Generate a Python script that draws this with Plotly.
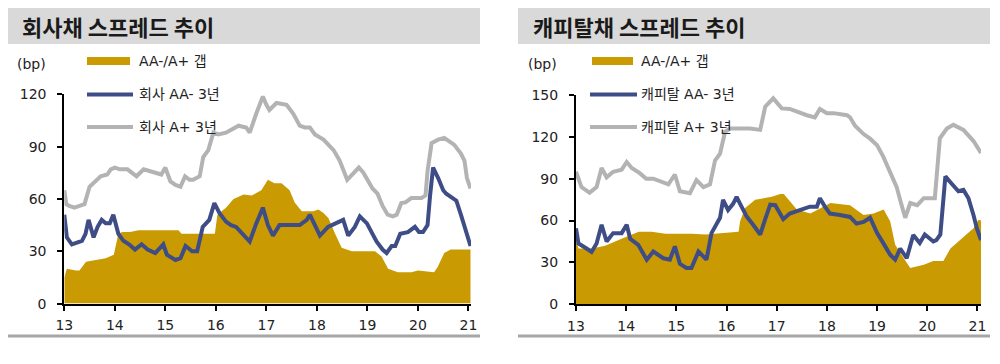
import plotly.graph_objects as go

# ---------------- data (x = year, 2-digit + fraction) ----------------
# Left: 회사채
corp_gap_x = [13.00, 13.05, 13.23, 13.30, 13.43, 13.60, 13.82, 13.98, 14.07, 14.15, 14.30, 14.47, 15.26, 15.32,
              15.98, 16.03, 16.20, 16.35, 16.55, 16.71, 16.90, 17.03, 17.16, 17.30, 17.46, 17.56, 17.70, 17.93,
              18.03, 18.13, 18.23, 18.36, 18.49, 18.69, 19.15, 19.28, 19.41, 19.60, 19.87, 20.00, 20.32, 20.39,
              20.52, 20.65, 20.98, 21.04]
corp_gap = [15, 20, 19, 19, 24, 25, 26, 28, 40, 41, 41, 42, 42, 40,
            40, 51, 55, 60, 62.5, 62, 65, 71, 69, 69, 65, 58, 53, 53,
            54, 52, 49, 40, 32, 30, 30, 27, 20, 18, 18, 19, 18, 21,
            29, 31, 31, 31]

corp_aa_x = [13.00, 13.05, 13.15, 13.25, 13.35, 13.42, 13.48, 13.58, 13.66, 13.74, 13.82, 13.90, 13.97, 14.07,
             14.17, 14.28, 14.40, 14.53, 14.65, 14.80, 14.96, 15.03, 15.20, 15.30, 15.40, 15.53, 15.63, 15.74,
             15.87, 15.97, 16.07, 16.20, 16.30, 16.40, 16.54, 16.67, 16.80, 16.93, 17.03, 17.13, 17.26, 17.46,
             17.66, 17.80, 17.86, 17.96, 18.06, 18.22, 18.39, 18.52, 18.62, 18.75, 18.85, 18.99, 19.10, 19.18,
             19.30, 19.38, 19.48, 19.55, 19.65, 19.80, 19.94, 20.02, 20.10, 20.19, 20.24, 20.30, 20.40, 20.50,
             20.56, 20.66, 20.76, 20.85, 20.95, 21.04]
corp_aa = [51, 38, 34, 35, 36, 40, 48, 38, 44, 48, 46, 46, 51, 40,
           36, 34, 31, 34, 31, 29, 34, 28, 25, 26, 33, 30, 30, 44,
           48, 57.6, 52, 47, 45, 44, 40, 35.6, 46, 55, 45, 39, 45, 45,
           45, 48, 51, 45, 39, 44, 46, 48, 39, 44, 50, 46, 40, 35.6,
           31, 29, 33, 33, 40, 41, 44, 41, 41, 45, 62, 78, 72, 65,
           63, 61, 59, 51, 42, 33]

corp_a_x = [13.00, 13.04, 13.10, 13.20, 13.30, 13.40, 13.50, 13.60, 13.72, 13.85, 13.92, 14.00, 14.10, 14.25,
            14.35, 14.43, 14.57, 14.70, 14.84, 14.92, 15.00, 15.10, 15.20, 15.30, 15.39, 15.48, 15.55, 15.68,
            15.75, 15.85, 15.95, 16.05, 16.20, 16.33, 16.45, 16.60, 16.67, 16.80, 16.93, 17.00, 17.06, 17.20,
            17.40, 17.53, 17.66, 17.76, 17.86, 17.96, 18.13, 18.33, 18.45, 18.60, 18.70, 18.83, 18.92, 19.00,
            19.10, 19.20, 19.30, 19.40, 19.50, 19.58, 19.67, 19.75, 19.87, 20.07, 20.15, 20.19, 20.27, 20.40,
            20.52, 20.62, 20.72, 20.85, 20.92, 20.97, 21.04]
corp_a = [65, 57, 56, 55, 56, 57, 67, 70, 73, 74, 77, 78, 77, 77,
          75, 73, 77, 76, 75, 74, 78, 70, 68, 67, 73, 71, 71, 73,
          84, 88, 98, 97, 98, 100, 102, 101, 98, 109, 118.7, 114, 111, 115,
          114, 109, 102, 101, 101, 97, 94, 88, 82, 71, 74, 78, 75, 71,
          66, 63, 56, 51, 50, 51, 57.6, 58, 60.5, 60.5, 62, 76, 92, 94,
          95, 93, 91, 86, 82, 72, 66]

# Right: 캐피탈채
cap_gap_x = [13.00, 13.05, 13.32, 13.58, 13.85, 14.12, 14.25, 14.51, 14.78, 15.31, 15.58, 16.24, 16.27, 16.37,
             16.57, 16.90, 17.07, 17.14, 17.40, 17.67, 17.93, 18.07, 18.46, 18.73, 18.93, 19.13, 19.26, 19.36,
             19.53, 19.66, 19.93, 20.12, 20.32, 20.46, 20.62, 20.79, 20.92, 21.02, 21.07]
cap_gap = [46, 40, 40, 42, 46, 50, 52, 52, 50.6, 50.6, 50, 52, 59.5, 69,
           75, 77, 79, 79, 68, 65, 70, 72.6, 71, 64, 65, 68, 59.5, 42.7,
           33, 26, 28.4, 31, 31, 40, 45, 50, 54.5, 60.6, 60]

cap_aa_x = [13.00, 13.05, 13.21, 13.31, 13.41, 13.51, 13.61, 13.74, 13.91, 14.01, 14.08, 14.24, 14.41, 14.54,
            14.74, 14.87, 14.97, 15.07, 15.20, 15.30, 15.44, 15.60, 15.70, 15.87, 15.93, 16.03, 16.13, 16.20,
            16.27, 16.40, 16.53, 16.67, 16.77, 16.87, 16.97, 17.13, 17.26, 17.46, 17.66, 17.80, 17.86, 17.96,
            18.06, 18.26, 18.46, 18.59, 18.73, 18.86, 19.00, 19.12, 19.26, 19.36, 19.46, 19.59, 19.72, 19.85,
            19.95, 20.12, 20.18, 20.26, 20.36, 20.46, 20.52, 20.62, 20.72, 20.82, 20.92, 20.99, 21.07]
cap_aa = [54.5, 43.6, 40, 37.5, 43.6, 57, 45, 51, 51, 57, 47, 42.6, 31.9, 37.8,
          33, 32, 41.5, 29, 26, 26, 37.8, 32, 51, 62, 74.8, 67.6, 72, 77,
          72, 63, 57, 50, 61, 71.4, 71, 61, 65, 67.6, 70, 70, 76, 70,
          65, 64, 62.6, 57.8, 59, 62, 51, 44, 35.5, 32, 40, 33, 49.7, 44,
          50, 45, 46, 50, 91.7, 87.5, 85, 81, 82, 76, 64, 54, 46]

cap_a_x = [13.00, 13.11, 13.27, 13.41, 13.51, 13.61, 13.74, 13.91, 14.01, 14.11, 14.27, 14.40, 14.54, 14.67,
           14.84, 14.97, 15.07, 15.27, 15.40, 15.54, 15.67, 15.77, 15.87, 15.97, 16.07, 16.27, 16.47, 16.67,
           16.77, 16.93, 17.10, 17.26, 17.40, 17.60, 17.76, 17.86, 18.00, 18.13, 18.40, 18.46, 18.56, 18.73,
           18.86, 19.00, 19.12, 19.26, 19.39, 19.48, 19.56, 19.66, 19.80, 19.93, 20.15, 20.25, 20.39, 20.52,
           20.72, 20.92, 21.07]
cap_a = [95, 84, 80, 84, 97.7, 91, 95, 96.5, 102, 97.7, 94, 90, 90, 88,
         86, 93, 81, 79.6, 89, 84, 86, 103, 108, 123.7, 126, 126, 126, 125,
         141.6, 147.6, 140.4, 140, 138, 135.5, 134, 140, 137, 137, 135.5, 134, 128, 122,
         118.7, 114, 106, 95, 84, 72, 62, 72.6, 71, 76, 76, 119, 126, 128.6,
         125, 117, 108.5]

x_ticks = [13, 14, 15, 16, 17, 18, 19, 20, 21]
corp_y_ticks = [0, 30, 60, 90, 120]
cap_y_ticks = [0, 30, 60, 90, 120, 150]

titles = ["회사채 스프레드 추이", "캐피탈채 스프레드 추이"]
legend_left = ["AA-/A+ 갭", "회사 AA- 3년", "회사 A+ 3년"]
legend_right = ["AA-/A+ 갭", "캐피탈 AA- 3년", "캐피탈 A+ 3년"]

# ---------------- styling ----------------
GOLD = "#C99A02"
NAVY = "#3F4D86"
GRAY = "#B3B3B3"
OFF = 8                      # default page body margin
W, H = 1000 - OFF, 364 - OFF
NUM_FONT = "DejaVu Sans, Noto Sans CJK KR"
KR_FONT = "Noto Sans CJK KR"


def px(x):
    return (x - OFF) / W


def py(y):
    return 1 - (y - OFF) / H


fig = go.Figure()

panels = [
    ("x", "y", corp_gap_x, corp_gap, corp_aa_x, corp_aa, corp_a_x, corp_a),
    ("x2", "y2", cap_gap_x, cap_gap, cap_aa_x, cap_aa, cap_a_x, cap_a),
]
for xa, ya, gx, gy, ax_, ay, bx, by in panels:
    fig.add_trace(go.Scatter(x=gx, y=gy, xaxis=xa, yaxis=ya, mode="lines", fill="tozeroy",
                             fillcolor=GOLD, line=dict(width=0, color=GOLD), hoverinfo="skip"))
    fig.add_trace(go.Scatter(x=bx, y=by, xaxis=xa, yaxis=ya, mode="lines",
                             line=dict(width=4, color=GRAY), hoverinfo="skip"))
    fig.add_trace(go.Scatter(x=ax_, y=ay, xaxis=xa, yaxis=ya, mode="lines",
                             line=dict(width=4, color=NAVY), hoverinfo="skip"))

axis_common = dict(showline=True, linecolor="black", linewidth=2, ticks="outside", ticklen=5,
                   tickcolor="black", tickwidth=1.5, showgrid=False, zeroline=False, automargin=False,
                   tickfont=dict(family=NUM_FONT, size=14, color="#222222"), fixedrange=True)

fig.update_layout(
    width=W, height=H, autosize=False,
    margin=dict(l=0, r=0, t=0, b=0, pad=0),
    paper_bgcolor="white", plot_bgcolor="white", showlegend=False,
    xaxis=dict(domain=[px(64.3), px(471)], range=[13, 21.05], tickvals=x_ticks,
               ticktext=[str(t) for t in x_ticks], anchor="y", ticklabelstandoff=3, **axis_common),
    yaxis=dict(domain=[py(303.6), py(94.3)], range=[0, 120], tickvals=corp_y_ticks,
               anchor="x", ticklabelstandoff=8, **axis_common),
    xaxis2=dict(domain=[px(576), px(981)], range=[13, 21.07], tickvals=x_ticks,
                ticktext=[str(t) for t in x_ticks], anchor="y2", ticklabelstandoff=3, **axis_common),
    yaxis2=dict(domain=[py(304.3), py(95)], range=[0, 150], tickvals=cap_y_ticks,
                anchor="x2", ticklabelstandoff=8, **axis_common),
)

shapes = []
annotations = []
# title bars, bottom rules, legends
for (bx0, bx1, tx, lab, bp_x, sw0, sw1, gsw0, gsw1, txt_x, title) in [
    (7, 480, 20, legend_left, 15, 87, 133, 87, 130, 137, titles[0]),
    (518, 990, 531, legend_right, 526, 590, 637, 592, 633, 639, titles[1]),
]:
    shapes.append(dict(type="rect", xref="paper", yref="paper", x0=px(bx0), x1=px(bx1),
                       y0=py(44), y1=py(5), fillcolor="#D9D9D9", line=dict(width=0), layer="below"))
    shapes.append(dict(type="line", xref="paper", yref="paper", x0=px(bx0), x1=px(bx1),
                       y0=py(336), y1=py(336), line=dict(color="#A6A6A6", width=3)))
    annotations.append(dict(text="<b>%s</b>" % title, xref="paper", yref="paper", x=px(tx), y=py(26),
                            xanchor="left", yanchor="middle", showarrow=False,
                            font=dict(family=KR_FONT, size=22, color="#1A1A1A")))
    annotations.append(dict(text="(bp)", xref="paper", yref="paper", x=px(bp_x), y=py(64),
                            xanchor="left", yanchor="middle", showarrow=False,
                            font=dict(family=NUM_FONT, size=14, color="#222222")))
    # legend swatches
    shapes.append(dict(type="line", xref="paper", yref="paper", x0=px(gsw0), x1=px(gsw1),
                       y0=py(61), y1=py(61), line=dict(color=GOLD, width=8)))
    shapes.append(dict(type="line", xref="paper", yref="paper", x0=px(sw0), x1=px(sw1),
                       y0=py(94.5), y1=py(94.5), line=dict(color=NAVY, width=4)))
    shapes.append(dict(type="line", xref="paper", yref="paper", x0=px(sw0), x1=px(sw1),
                       y0=py(127), y1=py(127), line=dict(color=GRAY, width=4)))
    for txt, yy in zip(lab, [61, 94.5, 127]):
        annotations.append(dict(text=txt, xref="paper", yref="paper", x=px(txt_x), y=py(yy),
                                xanchor="left", yanchor="middle", showarrow=False,
                                font=dict(family=NUM_FONT, size=14, color="#222222")))

fig.update_layout(shapes=shapes, annotations=annotations)
fig.write_html("out.html")
